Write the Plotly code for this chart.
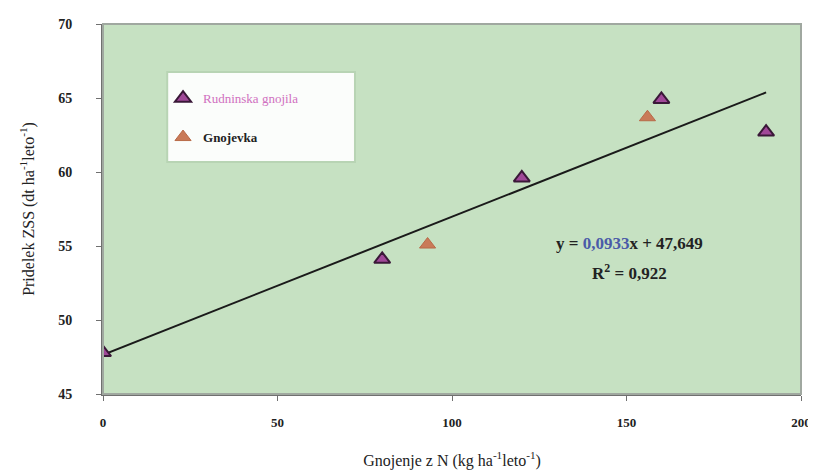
import plotly.graph_objects as go

# Data
rud_x = [0, 80, 120, 160, 190]
rud_y = [47.8, 54.1, 59.6, 64.9, 62.7]
gno_x = [93, 156]
gno_y = [55.1, 63.7]
slope = 0.0933
intercept = 47.649
r2 = 0.922
trend_x = [0, 190]
trend_y = [intercept + slope * v for v in trend_x]

x_ticks = [0, 50, 100, 150, 200]
y_ticks = [45, 50, 55, 60, 65, 70]

serif = "Liberation Serif"

fig = go.Figure()

fig.add_trace(go.Scatter(
    x=trend_x, y=trend_y, mode="lines",
    line=dict(color="#1a1a1a", width=2), showlegend=False, hoverinfo="skip"))

fig.add_trace(go.Scatter(
    x=rud_x, y=rud_y, mode="markers",
    name="<span style='color:#d070c0'>Rudninska gnojila</span>",
    legendgroup="a",
    marker=dict(symbol="triangle-up", size=14, color="#a04898",
                line=dict(color="#3a1838", width=2))))

fig.add_trace(go.Scatter(
    x=gno_x, y=gno_y, mode="markers", name="<b>Gnojevka</b>",
    legendgroup="b",
    marker=dict(symbol="triangle-up", size=14, color="#c97a58",
                line=dict(color="#b86a48", width=1))))

fig.update_layout(
    width=808, height=468,
    margin=dict(l=95, r=15, t=16, b=82, autoexpand=False),
    paper_bgcolor="white",
    plot_bgcolor="#c6e1c2",
    font=dict(family=serif, color="#222"),
    legend=dict(
        x=0.086, y=0.84, xanchor="left", yanchor="top",
        bgcolor="rgba(0,0,0,0)", borderwidth=0,
        font=dict(family=serif, size=13, color="#222"),
        tracegroupgap=19, traceorder="grouped",
    ),
    showlegend=True,
)

# legend box
fig.add_shape(type="rect", xref="paper", yref="paper",
              x0=0.092, y0=0.627, x1=0.361, y1=0.87,
              fillcolor="#fbfdfb", line=dict(color="#b8d4b4", width=2),
              layer="below")

fig.update_xaxes(
    range=[0, 200], tickvals=x_ticks, ticktext=[f"<b>{v}</b>" for v in x_ticks],
    showgrid=False, zeroline=False, automargin=False,
    showline=True, linecolor="#707070", linewidth=2, mirror=False,
    ticks="outside", ticklen=5, tickcolor="#707070", ticklabelstandoff=10,
    tickfont=dict(family=serif, size=13, color="#222"),
    title=dict(text="Gnojenje z N (kg ha<sup>-1</sup>leto<sup>-1</sup>)",
               font=dict(family=serif, size=16, color="#222"), standoff=26),
)
fig.update_yaxes(
    range=[45, 70], tickvals=y_ticks, ticktext=[f"<b>{v}</b>" for v in y_ticks],
    showgrid=False, zeroline=False, automargin=False,
    showline=True, linecolor="#707070", linewidth=2, mirror=False,
    ticks="outside", ticklen=5, tickcolor="#707070", ticklabelstandoff=21,
    tickfont=dict(family=serif, size=14, color="#222"),
    title=dict(text="Pridelek ZSS (dt ha<sup>-1</sup>leto<sup>-1</sup>)",
               font=dict(family=serif, size=16, color="#222"), standoff=20),
)

# plot-area border (top/right lighter)
fig.add_shape(type="rect", xref="paper", yref="paper", x0=0, y0=0, x1=1, y1=1,
              line=dict(color="#a0a8a0", width=2), layer="above")

fig.add_annotation(
    x=0.755, y=0.408, xref="paper", yref="paper", showarrow=False,
    xanchor="center", yanchor="middle",
    text=("<b>y = <span style='color:#4a5aa8'>0,0933</span>x + 47,649</b>"),
    font=dict(family=serif, size=17, color="#222"))
fig.add_annotation(
    x=0.755, y=0.33, xref="paper", yref="paper", showarrow=False,
    xanchor="center", yanchor="middle",
    text="<b>R<sup>2</sup> = 0,922</b>",
    font=dict(family=serif, size=17, color="#222"))

fig.write_html("out.html")
